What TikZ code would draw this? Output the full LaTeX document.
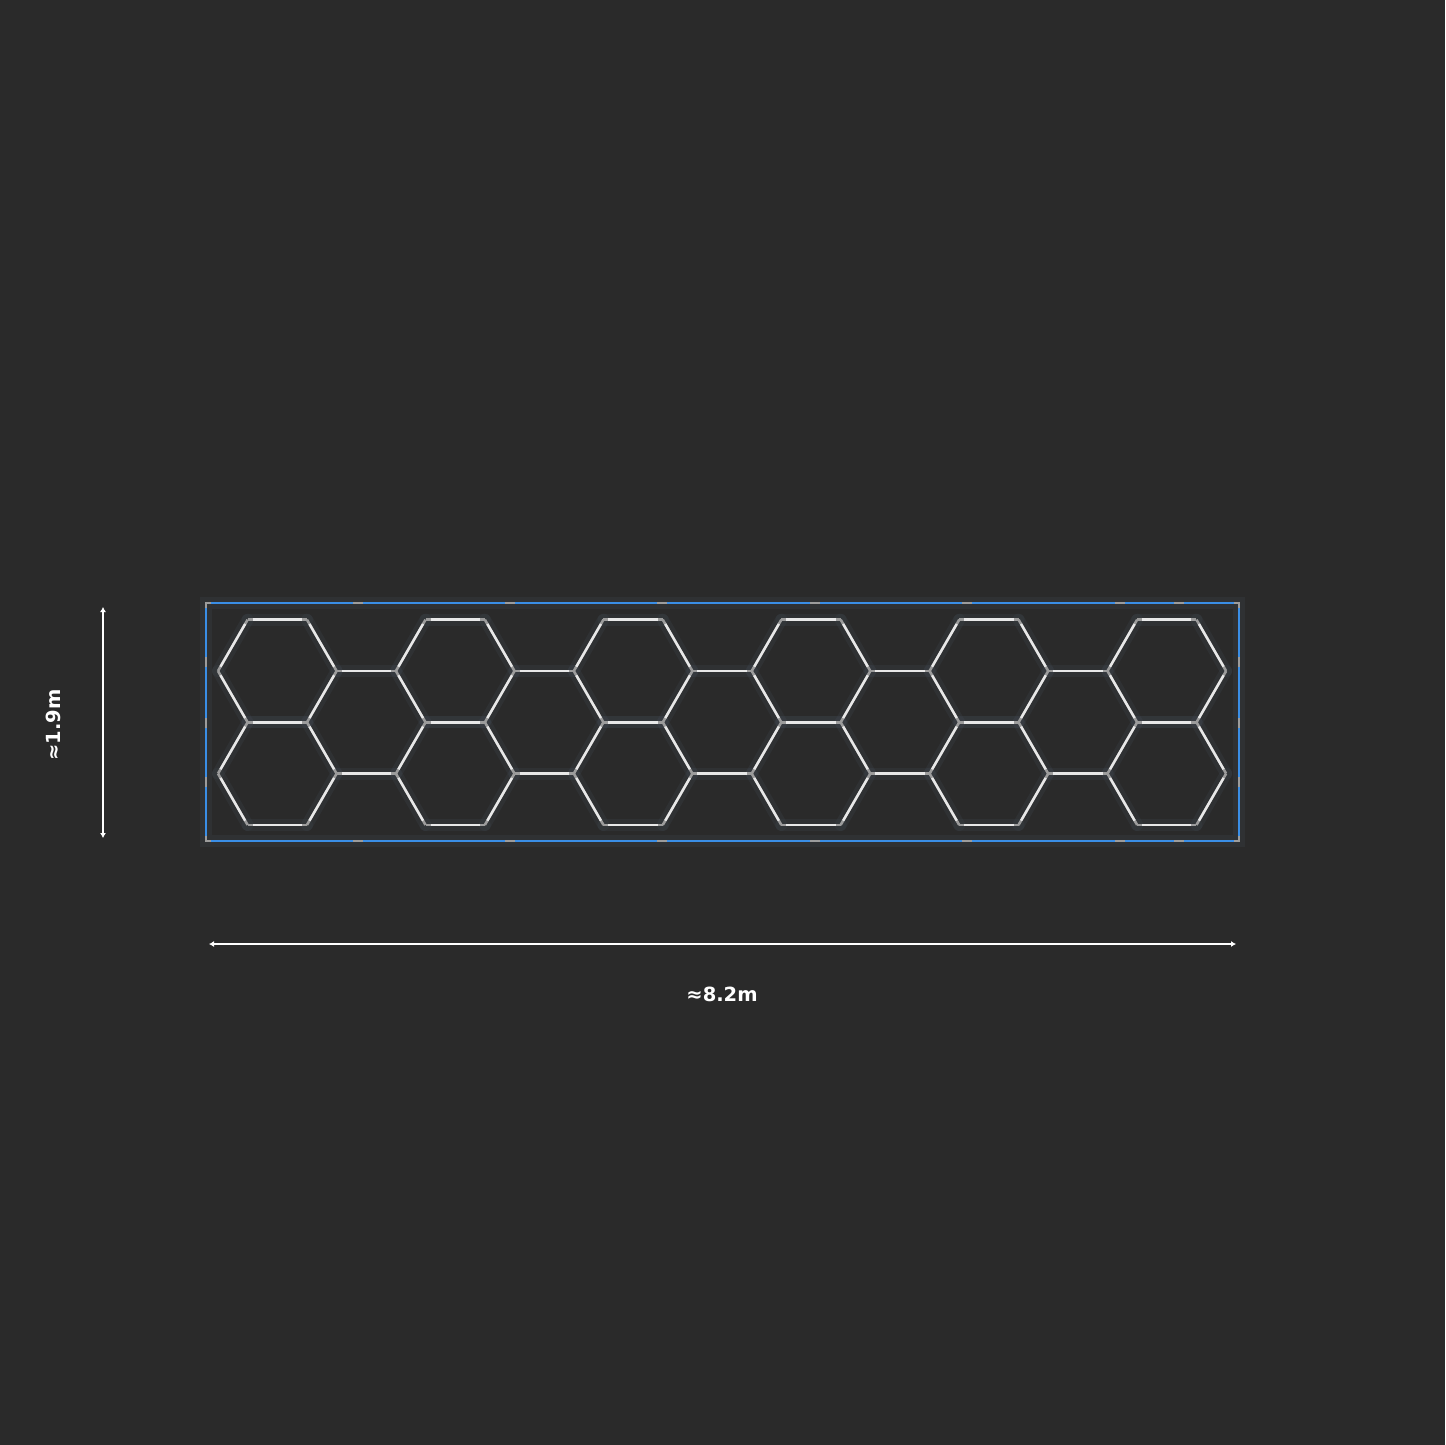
\documentclass[tikz,border=0pt]{standalone}
\usepackage{fontspec}
\setmainfont{DejaVu Sans}
\usepackage{tikz}
\usetikzlibrary{arrows.meta}

\definecolor{bgdark}{HTML}{2A2A2A}
\definecolor{frameblue}{HTML}{3A8EE6}
\definecolor{barwhite}{HTML}{E8E8E8}
\definecolor{jointgray}{HTML}{9C9C9C}
\definecolor{haze}{HTML}{3C424A}

\tikzset{
  glow/.style={line width=12pt, haze, opacity=0.3, line cap=round},
  joint/.style={line width=2.6pt, jointgray},
  framejoint/.style={line width=2.2pt, jointgray},
  bar/.style={line width=2.4pt, barwhite, shorten >=5pt, shorten <=5pt},
  framebar/.style={line width=2.2pt, frameblue, shorten >=5pt, shorten <=5pt},
  dimline/.style={line width=1.8pt, white, {Latex[length=5pt,width=6pt]}-{Latex[length=5pt,width=6pt]}},
  dimlabel/.style={text=white, font=\bfseries\fontsize{19.5}{22}\selectfont}
}

% every edge of the honeycomb, drawn with the style given
\newcommand{\honeycomb}[1]{%
  \foreach \i in {0,...,5} {
    \pgfmathsetmacro\cx{277.3+177.9*\i}
    \foreach \cy in {671,773.6} {
      \foreach \a in {0,60,...,300}
        \draw[#1] (\cx,\cy) ++(\a:59.3) -- ++(\a+120:59.3);
    }
  }
  \foreach \i in {0,...,4} {
    \pgfmathsetmacro\xa{277.3+177.9*\i+59.3}
    \pgfmathsetmacro\xb{277.3+177.9*(\i+1)-59.3}
    \foreach \cy in {671,773.6}
      \draw[#1] (\xa,\cy) -- (\xb,\cy);
  }
}

\begin{document}
\begin{tikzpicture}[x=1pt, y=-1pt]
    \useasboundingbox[fill=bgdark] (0,0) rectangle (1445,1445);

    % frame
    \draw[glow] (206,603) rectangle (1239,841);
    \draw[framejoint] (206,603) rectangle (1239,841);
    \foreach \xa/\xb in {206/358, 358/510, 510/662, 662/815, 815/967, 967/1120, 1120/1179, 1179/1239} {
        \draw[framebar] (\xa,603) -- (\xb,603);
        \draw[framebar] (\xa,841) -- (\xb,841);
    }
    \foreach \ya/\yb in {603/662, 662/723, 723/782, 782/841} {
        \draw[framebar] (206,\ya) -- (206,\yb);
        \draw[framebar] (1239,\ya) -- (1239,\yb);
    }

    % hexagons
    \honeycomb{glow}
    \honeycomb{joint}
    \honeycomb{bar}

    % dimensions
    \coordinate (htop) at (103,607);
    \coordinate (hbot) at (103,838);
    \draw[dimline] (htop) -- (hbot);
    \node[dimlabel, rotate=90] (hlabel) at (53,725) {≈1.9m};

    \coordinate (wleft) at (209,944);
    \coordinate (wright) at (1236,944);
    \draw[dimline] (wleft) -- (wright);
    \node[dimlabel] (wlabel) at (722,994) {≈8.2m};
\end{tikzpicture}
\end{document}
